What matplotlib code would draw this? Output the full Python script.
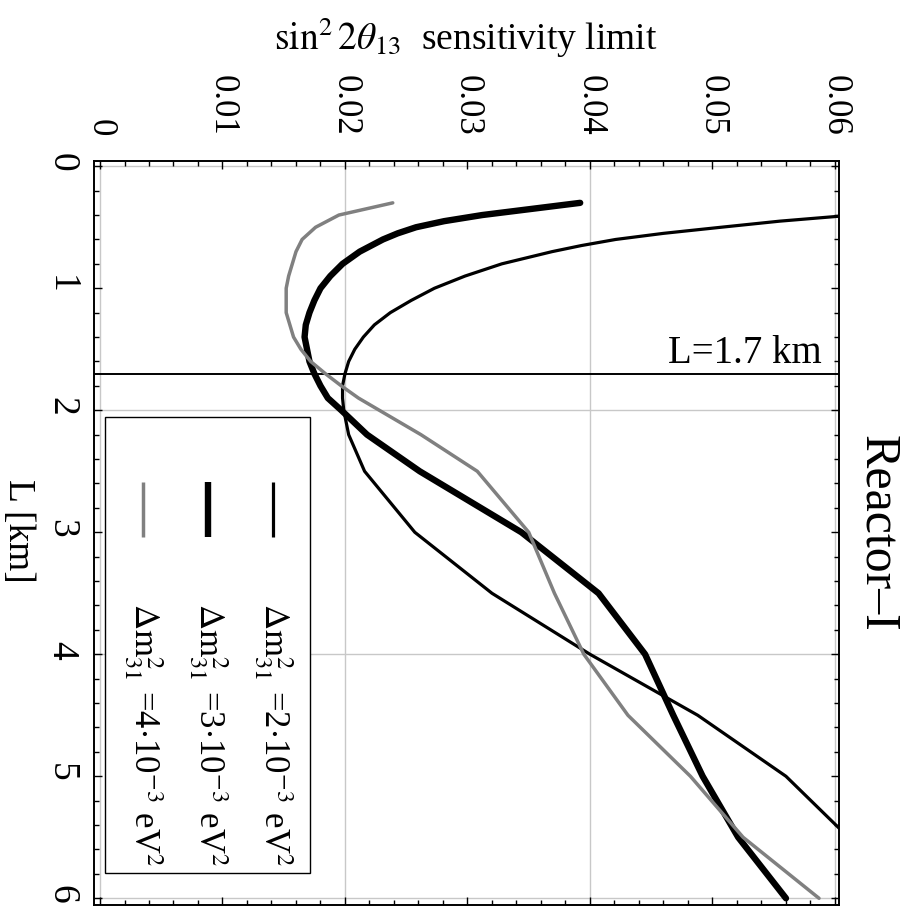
import matplotlib
matplotlib.use('Agg')
import matplotlib.pyplot as plt
from matplotlib.ticker import MultipleLocator, FuncFormatter
from matplotlib.patches import Rectangle
from matplotlib.lines import Line2D

plt.rcParams['font.family'] = ['Liberation Serif', 'DejaVu Serif']
plt.rcParams['mathtext.fontset'] = 'stix'

# ---- data ----
L_thin = [0.3, 0.4, 0.45, 0.5, 0.55, 0.6, 0.65, 0.7, 0.8, 0.9, 1.0, 1.1, 1.2, 1.3, 1.4, 1.5, 1.6, 1.7, 1.8, 1.9,
          2.0, 2.2, 2.5, 3.0, 3.5, 4.0, 4.5, 5.0, 5.5, 6.0]
s_thin = [0.080, 0.0615, 0.0555, 0.0507, 0.0460, 0.0421, 0.0393, 0.0369, 0.0328, 0.0298, 0.0273, 0.0254, 0.0237,
          0.0224, 0.0215, 0.0208, 0.0203, 0.0200, 0.0198, 0.0198,
          0.0199, 0.0203, 0.0216, 0.0257, 0.0320, 0.0400, 0.0488, 0.0560, 0.0611, 0.0665]

L_thick = [0.3, 0.4, 0.45, 0.5, 0.55, 0.6, 0.7, 0.8, 0.9, 1.0, 1.1, 1.2, 1.3, 1.4, 1.5, 1.6, 1.7, 1.8, 1.9,
           2.0, 2.2, 2.5, 3.0, 3.5, 4.0, 4.5, 5.0, 5.5, 6.0]
s_thick = [0.0392, 0.0312, 0.0281, 0.0258, 0.0243, 0.0231, 0.0212, 0.0198, 0.0188, 0.0180, 0.0175, 0.0171, 0.0168,
           0.0167, 0.0169, 0.0171, 0.0175, 0.0180, 0.0186,
           0.0197, 0.0218, 0.0261, 0.0344, 0.0407, 0.0445, 0.0468, 0.0492, 0.0521, 0.0560]

L_gray = [0.3, 0.4, 0.5, 0.6, 0.7, 0.8, 0.9, 1.0, 1.1, 1.2, 1.3, 1.4, 1.5, 1.6, 1.7, 1.8, 1.9, 2.0, 2.2, 2.5,
          3.0, 3.5, 4.0, 4.5, 5.0, 5.5, 6.0]
s_gray = [0.0239, 0.0195, 0.0176, 0.0165, 0.0160, 0.0157, 0.0154, 0.0152, 0.0152, 0.0152, 0.0155, 0.0158, 0.0164,
          0.0172, 0.0184, 0.0197, 0.0211, 0.0228, 0.0262, 0.0308,
          0.0350, 0.0371, 0.0395, 0.0431, 0.0482, 0.0525, 0.0587]

labels = [r"$\Delta\mathrm{m}^2_{31}$ =2$\cdot$10$^{-3}$ eV$^2$",
          r"$\Delta\mathrm{m}^2_{31}$ =3$\cdot$10$^{-3}$ eV$^2$",
          r"$\Delta\mathrm{m}^2_{31}$ =4$\cdot$10$^{-3}$ eV$^2$"]
L_mark = 1.7
x_ticks = [0, 0.01, 0.02, 0.03, 0.04, 0.05, 0.06]
y_ticks = [0, 1, 2, 3, 4, 5, 6]

# ---- figure ----
W, H = 901, 913
fig = plt.figure(figsize=(W / 100, H / 100), dpi=100)
ax = fig.add_axes([94 / W, 1 - 905 / H, (839 - 94) / W, (905 - 161) / H])
ax.set_xlim(-0.00049, 0.06033)
ax.set_ylim(6.055, -0.043)

for g in [0, 0.02, 0.04, 0.06]:
    ax.axvline(g, color='#c8c8c8', lw=1.0, zorder=0)
for g in [0, 2, 4, 6]:
    ax.axhline(g, color='#c8c8c8', lw=1.0, zorder=0)

styles = [dict(color='black', lw=2.3), dict(color='black', lw=4.6), dict(color='#808080', lw=2.5)]
series = [(s_thin, L_thin), (s_thick, L_thick), (s_gray, L_gray)]
for (s, L), st in zip(series, styles):
    ax.plot(s, L, solid_capstyle='round', solid_joinstyle='round', zorder=3, **st)

ax.axhline(L_mark, color='black', lw=1.4, zorder=2)
ax.text(0.0589, 1.61, f"L={L_mark} km", ha='right', va='baseline', fontsize=28)

# ticks
ax.xaxis.set_ticks_position('both')
ax.yaxis.set_ticks_position('both')
ax.set_xticks(x_ticks)
ax.set_yticks(y_ticks)
ax.xaxis.set_minor_locator(MultipleLocator(0.002))
ax.yaxis.set_minor_locator(MultipleLocator(0.2))
ax.xaxis.set_major_formatter(FuncFormatter(lambda v, p: '0' if abs(v) < 1e-9 else f'{v:.2f}'))
ax.tick_params(axis='both', which='both', direction='in', width=1.0)
ax.tick_params(axis='both', which='major', length=6)
ax.tick_params(axis='both', which='minor', length=3.5)
ax.tick_params(axis='x', labeltop=True, labelbottom=False, labelsize=25, pad=18)
ax.tick_params(axis='y', labelleft=True, labelright=False, labelsize=27, pad=11)
for t in ax.get_xticklabels(which='major'):
    t.set_rotation(-90)
for t in ax.get_yticklabels(which='major'):
    t.set_rotation(-90)
for sp in ax.spines.values():
    sp.set_linewidth(1.4)

# legend drawn manually (rotated)
ax.add_patch(Rectangle((0.0148, 0.043), 0.2752, 0.613, transform=ax.transAxes,
                       fill=True, facecolor='white', edgecolor='black', lw=1.0, zorder=4))
leg_x = [0.240, 0.153, 0.066]
for lx, st, lab in zip(leg_x, styles, labels):
    ax.add_line(Line2D([lx, lx], [0.569, 0.495], transform=ax.transAxes, zorder=5,
                       solid_capstyle='butt', **st))
    ax.text(lx, 0.406, lab, transform=ax.transAxes, rotation=-90, ha='center', va='top',
            fontsize=25, zorder=5)

# axis labels
fig.text(466 / W, 1 - 38 / H, r"$\sin^2 2\theta_{13}$  sensitivity limit", ha='center', va='center', fontsize=27)
fig.text(18 / W, 1 - 531 / H, "L [km]", rotation=-90, ha='center', va='center', fontsize=27)
fig.text(877 / W, 1 - 533 / H, "Reactor\u2013I", rotation=-90, ha='center', va='center', fontsize=36)

fig.savefig('out.png', dpi=100)
